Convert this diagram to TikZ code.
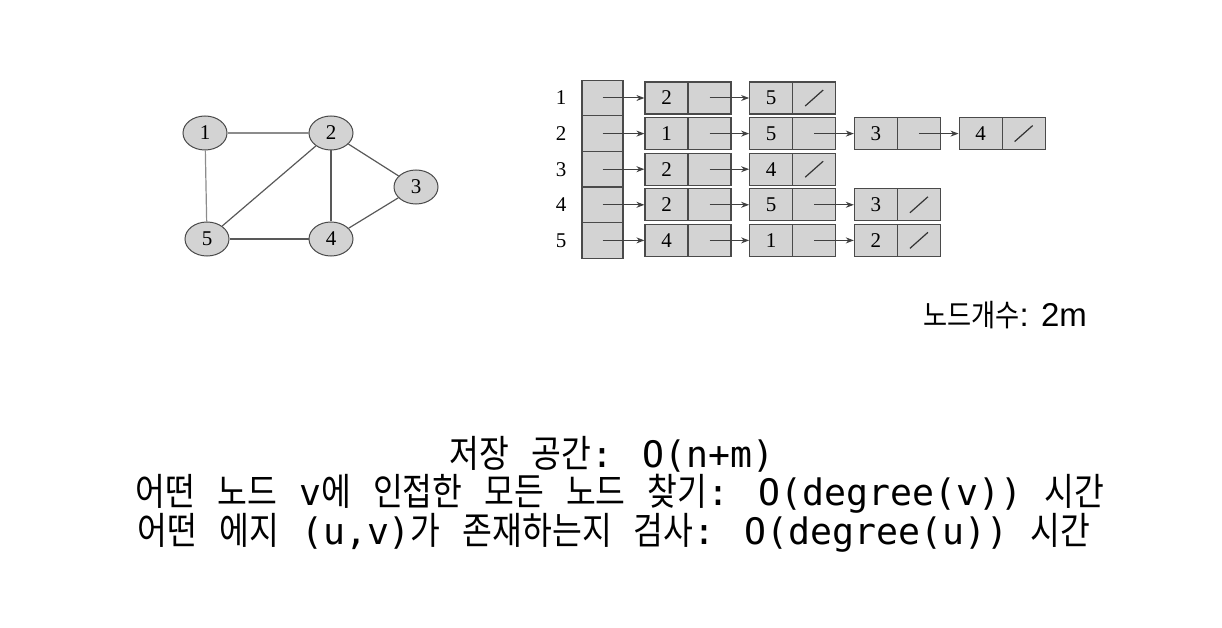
\documentclass[tikz,border=0pt]{standalone}
\usepackage{fontspec}
\setmainfont{Liberation Serif}
\newfontfamily\kr{Noto Sans CJK KR}[FakeStretch=0.86]
\newfontfamily\mono{DejaVu Sans Mono}
\newfontfamily\hel{Liberation Sans}
\usetikzlibrary{shapes.geometric,arrows.meta,calc}
\definecolor{cellfill}{HTML}{D3D3D3}
\definecolor{celldraw}{HTML}{4A4A4A}
\newcommand{\K}[1]{{\fontsize{37.7}{38}\selectfont\kr #1}}
\tikzset{
  vtx/.style={ellipse,minimum width=44pt,minimum height=34pt,inner sep=0pt,fill=cellfill,draw=celldraw,line width=1pt,font=\fontsize{21}{21}\selectfont},
  gedge/.style={draw=black!65,line width=1.2pt},
  hcell/.style={rectangle,minimum width=41pt,minimum height=35.6pt,inner sep=0pt,fill=cellfill,draw=celldraw,line width=1.2pt},
  vcell/.style={rectangle,minimum width=43pt,minimum height=32pt,inner sep=0pt,fill=cellfill,draw=celldraw,line width=1.2pt,font=\fontsize{21}{21}\selectfont},
  ptr/.style={-{Stealth[length=8pt,width=6pt]},draw=black!75,line width=1pt},
  rlbl/.style={font=\fontsize{21}{21}\selectfont,inner sep=0pt},
  txt/.style={font=\fontsize{36.5}{38}\selectfont\mono,inner sep=0pt,align=center}
}
\begin{document}
\begin{tikzpicture}[x=1pt,y=-1pt]
\useasboundingbox (0,0) rectangle (1222,628);
% graph
\node[vtx] (v1) at (205,133) {1};
\node[vtx] (v2) at (331,133) {2};
\node[vtx] (v3) at (416,187) {3};
\node[vtx] (v4) at (331,239) {4};
\node[vtx] (v5) at (207,239) {5};
\draw[gedge,draw=black!45] (v1)--(v2);
\draw[gedge,draw=black!45] (v1)--(v5);
\draw[gedge] (v2)--(v5);
\draw[gedge] (v2)--(v4);
\draw[gedge] (v2)--(v3);
\draw[gedge] (v3)--(v4);
\draw[gedge] (v5)--(v4);
% adjacency lists
\foreach \r/\n/\vals in {1/2/{2,5},2/4/{1,5,3,4},3/2/{2,4},4/3/{2,5,3},5/3/{4,1,2}}{
  \pgfmathsetmacro\yy{98+35.6*(\r-1)}
  \node[rlbl] (lab\r) at (561,\yy) {\r};
  \node[hcell] (h\r) at (602.5,\yy) {};
  \foreach \v [count=\k] in \vals {
    \pgfmathsetmacro\xx{666.5+104.7*(\k-1)}
    \pgfmathsetmacro\xp{\xx+43}
    \node[vcell] (c\r-\k) at (\xx,\yy) {\v};
    \node[vcell] (p\r-\k) at (\xp,\yy) {};
    \ifnum\k=1
      \draw[ptr] (h\r.center) -- (c\r-\k.west);
    \else
      \pgfmathtruncatemacro\km{\k-1}
      \draw[ptr] (p\r-\km.center) -- (c\r-\k.west);
    \fi
    \ifnum\k=\n
      \draw[line width=1.2pt,black!80] ($(p\r-\k.center)+(-9,8)$) -- ($(p\r-\k.center)+(9,-8)$);
    \fi
  }
}
% texts
\node[inner sep=0pt] (cnt) at (1005,315) {{\fontsize{30.5}{30}\selectfont\kr 노드개수}{\fontsize{33}{33}\selectfont\hel: 2m}};
\node[txt] (t1) at (612,454) {\K{저장} \K{공간}: O(n+m)};
\node[txt] (t2) at (620,494) {\K{어떤} \K{노드} v\K{에} \K{인접한} \K{모든} \K{노드} \K{찾기}: O(degree(v)) \K{시간}};
\node[txt] (t3) at (614,533) {\K{어떤} \K{에지} (u,v)\K{가} \K{존재하는지} \K{검사}: O(degree(u)) \K{시간}};
\end{tikzpicture}
\end{document}
